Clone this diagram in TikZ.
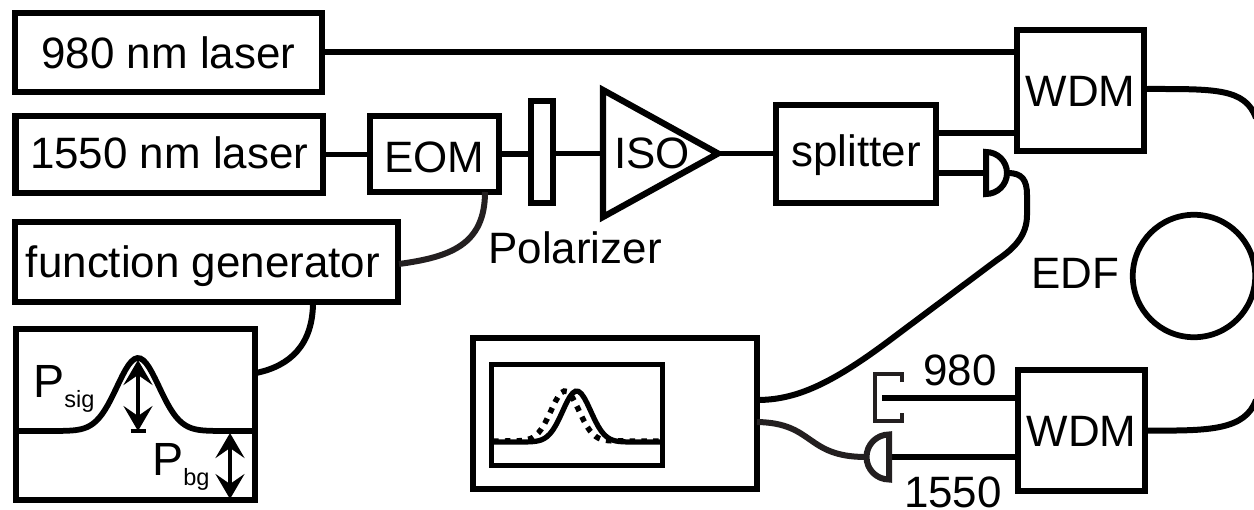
\documentclass[tikz,border=0pt]{standalone}
\usepackage{fontspec}
\setmainfont{Liberation Sans}
\usetikzlibrary{arrows.meta,calc}
\definecolor{wiregray}{HTML}{231F20}
\tikzset{
 box/.style={draw,line width=.125cm,inner sep=0,text height=17.8pt,text depth=0pt},
 lbl/.style={inner sep=0,anchor=base},
 wire/.style={line width=.12cm},
 graywire/.style={line width=.12cm,draw=wiregray}
}
\newcommand{\subtxt}[1]{\raisebox{-.2cm}{\fontsize{13.4}{16}\selectfont #1}}
\begin{document}
\begin{tikzpicture}[x=.02cm,y=-.02cm,font=\fontsize{25}{30}\selectfont,>={Stealth[length=.5cm,width=.58cm,inset=.2cm]}]
\useasboundingbox (0,0) rectangle (1254,510);
\node[box,minimum width=6.14cm,minimum height=1.58cm] (laserA) at (168.5,52.5) {980 nm laser};
\node[box,minimum width=6.15cm,minimum height=1.54cm,text height=16pt] (laserB) at (169.2,154.5) {1550 nm laser};
\node[box,minimum width=2.58cm,minimum height=1.52cm,text height=21.2pt] (eom) at (434.5,154) {EOM};
\node[box,minimum width=7.66cm,minimum height=1.6cm] (gen) at (206.5,262) {function generator\kern.14cm};
\node[box,minimum width=.44cm,minimum height=2.04cm] (pol) at (542,152) {};
\node[box,minimum width=3.2cm,minimum height=1.96cm,text height=14.4pt] (split) at (856,154) {splitter};
\node[box,minimum width=2.54cm,minimum height=2.42cm] (wdmA) at (1080.5,90.5) {WDM};
\node[box,minimum width=2.54cm,minimum height=2.42cm] (wdmB) at (1081.5,430.5) {WDM};
\node[box,minimum width=4.78cm,minimum height=3.42cm] (pulse) at (135.5,414.5) {};
\node[box,minimum width=5.68cm,minimum height=3.02cm] (scope) at (615,413.5) {};
\node[box,line width=.095cm,minimum width=3.43cm,minimum height=2.03cm] (screen) at (577,415) {};
\node[draw,circle,line width=.115cm,inner sep=0,minimum size=2.45cm] (edf) at (1194,276) {};
\coordinate (isoA) at (603,90);
\coordinate (isoIn) at (603,153.5);
\coordinate (isoOut) at (718,153.5);
\coordinate (isoB) at (603,217);
\draw[line width=.125cm] (isoA)--(isoOut)--(isoB)--cycle;
\node[lbl] (iso) at (652,169) {ISO};
\node[lbl] (polname) at (575,263) {Polarizer};
\node[lbl] (edfname) at (1075.5,288) {EDF};
\node[lbl] (nineeighty) at (960,385) {980};
\node[lbl] (fifteen) at (953,507) {1550};
\node[lbl,anchor=base west] (psig) at (33,397) {\fontsize{26.5}{30}\selectfont P\subtxt{sig}};
\node[lbl,anchor=base west] (pbg) at (152,475) {\fontsize{26.5}{30}\selectfont P\subtxt{bg}};
\coordinate (tapA) at (936,133);
\coordinate (tapB) at (936,173);
\coordinate (detA) at (986,173);
\coordinate (domeA) at (1008,173);
\coordinate (detB) at (889,457);
\coordinate (domeB) at (866,457);
\coordinate (dumpIn) at (882,398);
\coordinate (edgeA) at (1256,118);
\coordinate (edgeB) at (1256,400);
\coordinate (scopeA) at (757,400);
\coordinate (scopeB) at (757,422);
\coordinate (eomOut) at (485,192);
\coordinate (genIn) at (399,264);
\coordinate (genOut) at (313,302);
\coordinate (pulseIn) at (256,373);
\draw[wire] (laserA.east)--(laserA.east -| wdmA.west);
\draw[wire] (laserB.east)--(laserB.east -| eom.west);
\draw[wire] (eom.east)--(eom.east -| pol.west);
\draw[wire] (pol.east |- isoIn)--(isoIn);
\draw[wire] (isoOut)--(isoOut -| split.west);
\draw[wire] (tapA)--(tapA -| wdmA.west);
\draw[wire] (tapB)--(detA);
\draw[wire,fill=white] (986,152) arc (90:-90:.42cm)--cycle;
\draw[wire] (dumpIn)--(dumpIn -| wdmB.west);
\draw[wire] (detB)--(detB -| wdmB.west);
\draw[graywire,fill=white] (889,434.5) arc (90:270:.45cm)--cycle;
\draw[graywire,line width=.095cm] (902,382)--(902,374)--(875,374)--(875,421)--(902,421)--(902,413);
\draw[graywire] (eomOut) .. controls (485,245) and (450,257) .. (genIn);
\draw[wire] (genOut) .. controls (313,345) and (290,366) .. (pulseIn);
\draw[wire] (wdmA.east |- 0,89) .. controls (1215,89) and (1245,88) .. (edgeA);
\draw[wire] (wdmB.east) .. controls (1210,431) and (1245,430) .. (edgeB);
\draw[wire] (domeA) .. controls (1022,173) and (1027,180) .. (1027,195)--(1027,215) .. controls (1027,235) and (1015,248) .. (997,260)--(890,340) .. controls (830,385) and (795,400) .. (scopeA);
\draw[graywire] (scopeB) .. controls (815,423) and (805,457) .. (domeB);
\draw[line width=.115cm] plot[domain=19:253,samples=80] (\x,{431-73*exp(0-(\x-138)^2/882)});
\draw[line width=.105cm] plot[domain=493:661,samples=60] (\x,{442-51*exp(0-(\x-576.7)^2/392)});
\draw[line width=.11cm,dash pattern=on .11cm off .126cm] plot[domain=493:661,samples=60] (\x,{441-50*exp(0-(\x-565)^2/392)});
\coordinate (sigTop) at (138,360);
\coordinate (sigBase) at (138,431);
\coordinate (bgTop) at (230,433);
\coordinate (bgBase) at (230,499);
\draw[<->,line width=.085cm] (sigTop)--(sigBase);
\draw[line width=.085cm] ($(sigBase)+(-7.5,0)$)--($(sigBase)+(7.5,0)$);
\draw[<->,line width=.085cm] (bgTop)--(bgBase);
\end{tikzpicture}
\end{document}
